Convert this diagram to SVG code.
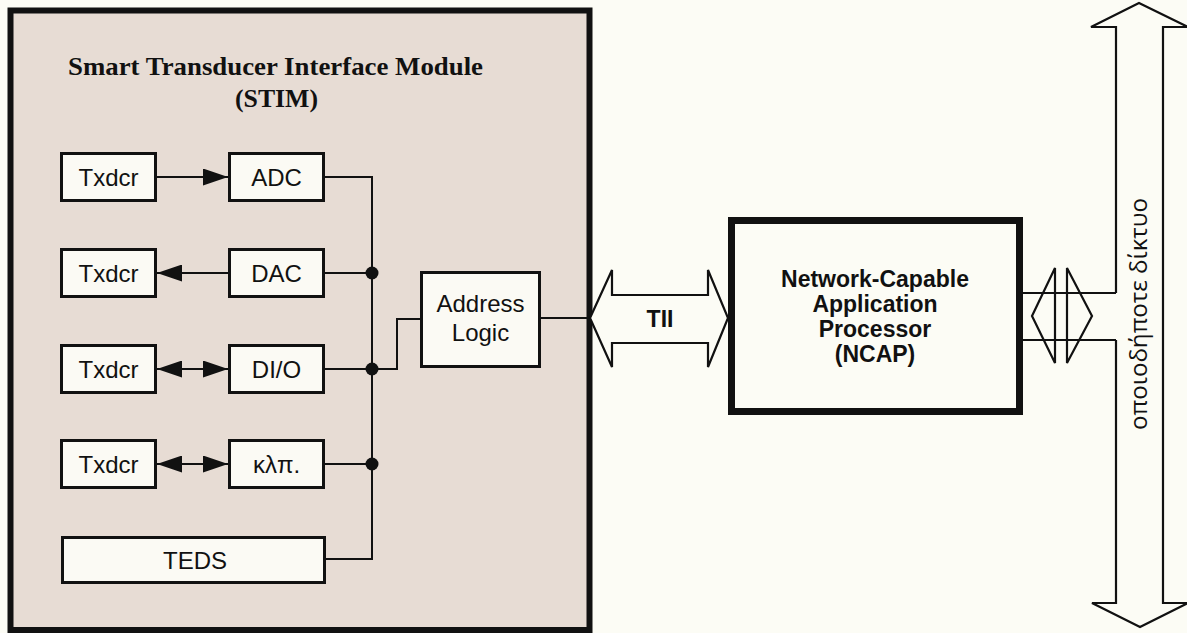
<svg xmlns="http://www.w3.org/2000/svg" width="1187" height="633" viewBox="0 0 1187 633">
  <style>
    .box { fill: #fbfaf4; stroke: #111; stroke-width: 3; }
    .lbl { font-family: "Liberation Sans", Arial, sans-serif; font-size: 24px; fill: #111; text-anchor: middle; }
    .bold { font-weight: bold; font-size: 23px; }
    .title { font-family: "Liberation Serif", "Times New Roman", serif; font-weight: bold; font-size: 25.5px; fill: #111; }
    .wire { fill: none; stroke: #111; stroke-width: 2; }
    .hollow { fill: #fcfcf5; stroke: #111; stroke-width: 2.2; stroke-linejoin: miter; }
    .outline { fill: none; stroke: #111; stroke-width: 2.2; }
    .dot { fill: #111; }
  </style>
  <defs>
    <marker id="ah" viewBox="0 0 25 17" refX="25" refY="8.5" markerWidth="25" markerHeight="17" markerUnits="userSpaceOnUse" orient="auto-start-reverse">
      <path d="M0 0 L25 8.5 L0 17 z" fill="#111"/>
    </marker>
  </defs>

  <rect x="0" y="0" width="1187" height="633" fill="#fcfcf5"/>

  <g id="stim">
    <rect x="10.5" y="10.5" width="579" height="619.5" fill="#e7dcd4" stroke="#111" stroke-width="6"/>
    <text class="title" x="68" y="75" textLength="415" lengthAdjust="spacingAndGlyphs">Smart Transducer Interface Module</text>
    <text class="title" x="235" y="107" textLength="83" lengthAdjust="spacingAndGlyphs">(STIM)</text>
  </g>

  <g id="txdcr1"><rect class="box" x="61.5" y="153.5" width="94" height="47"/><text class="lbl" x="108.5" y="185.5">Txdcr</text></g>
  <g id="adc"><rect class="box" x="229.5" y="153.5" width="94" height="47"/><text class="lbl" x="276.5" y="185.5">ADC</text></g>
  <g id="txdcr2"><rect class="box" x="61.5" y="249.5" width="94" height="47"/><text class="lbl" x="108.5" y="281.5">Txdcr</text></g>
  <g id="dac"><rect class="box" x="229.5" y="249.5" width="94" height="47"/><text class="lbl" x="276.5" y="281.5">DAC</text></g>
  <g id="txdcr3"><rect class="box" x="61.5" y="345.5" width="94" height="47"/><text class="lbl" x="108.5" y="377.5">Txdcr</text></g>
  <g id="dio"><rect class="box" x="229.5" y="345.5" width="94" height="47"/><text class="lbl" x="276.5" y="377.5">DI/O</text></g>
  <g id="txdcr4"><rect class="box" x="61.5" y="440.5" width="94" height="47"/><text class="lbl" x="108.5" y="472.5">Txdcr</text></g>
  <g id="etc"><rect class="box" x="229.5" y="440.5" width="94" height="47"/><text class="lbl" x="276.5" y="472.5">κλπ.</text></g>
  <g id="teds"><rect class="box" x="62.5" y="537.5" width="262" height="45"/><text class="lbl" x="195" y="568.5">TEDS</text></g>
  <g id="address-logic"><rect class="box" x="421.5" y="272.5" width="118" height="94"/><text class="lbl" x="480.5" y="312">Address</text><text class="lbl" x="480.5" y="341">Logic</text></g>

  <g id="ncap">
    <rect x="731.5" y="220.5" width="288" height="191" fill="#fcfcf5" stroke="#111" stroke-width="7"/>
    <text class="lbl bold" x="875" y="287">Network-Capable</text>
    <text class="lbl bold" x="875" y="312">Application</text>
    <text class="lbl bold" x="875" y="337">Processor</text>
    <text class="lbl bold" x="875" y="362">(NCAP)</text>
  </g>

  <g id="network">
    <path class="outline" d="M1116 293 V27 H1091 L1139 3 L1188 27 H1163 V603 H1188 L1140 627 L1092 603 H1116 V340"/>
    <text x="0" y="0" transform="translate(1147,314) rotate(-90)" font-family="'Open Sans', 'Noto Sans', sans-serif" font-size="23" fill="#111" text-anchor="middle" textLength="232" lengthAdjust="spacingAndGlyphs">οποιοδήποτε δίκτυο</text>
  </g>

  <g id="connectors">
    <line class="wire" x1="157" y1="177" x2="228" y2="177" marker-end="url(#ah)"/>
    <line class="wire" x1="228" y1="273" x2="157" y2="273" marker-end="url(#ah)"/>
    <line class="wire" x1="157" y1="369" x2="228" y2="369" marker-start="url(#ah)" marker-end="url(#ah)"/>
    <line class="wire" x1="157" y1="464" x2="228" y2="464" marker-start="url(#ah)" marker-end="url(#ah)"/>
    <path class="wire" d="M325 177 H372 V559 H326"/>
    <path class="wire" d="M325 273 H372"/>
    <path class="wire" d="M325 369 H372"/>
    <path class="wire" d="M325 464 H372"/>
    <path class="wire" d="M372 369 H397 V319 H420"/>
    <path class="wire" d="M541 318 H587"/>
    <circle class="dot" cx="372" cy="273" r="6.5"/>
    <circle class="dot" cx="372" cy="369" r="6.5"/>
    <circle class="dot" cx="372" cy="464" r="6.5"/>
    <g id="tii">
      <polygon class="hollow" points="590,318 612,270 612,295 708,295 708,270 728,318 708,367 708,343 612,343 612,367"/>
      <text class="lbl bold" x="660" y="327">TII</text>
    </g>
    <g id="net-if">
      <path class="outline" d="M1023 293 H1116 M1023 340 H1116"/>
      <polygon class="outline" points="1032,316 1055,268 1055,363"/>
      <polygon class="outline" points="1067,268 1092,316 1067,363"/>
    </g>
  </g>
</svg>
